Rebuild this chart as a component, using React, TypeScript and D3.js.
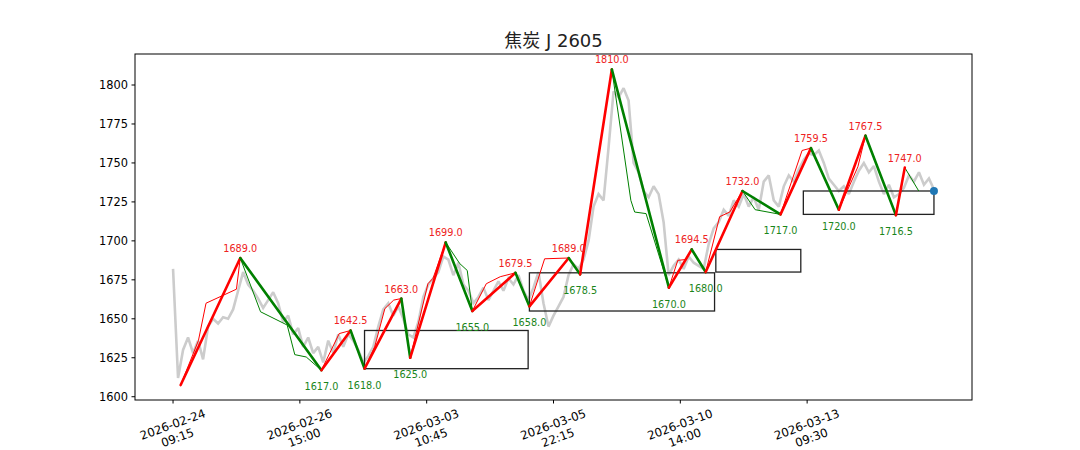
import React from 'react';
import * as d3 from 'd3';

const TITLE = '焦炭 J 2605';

// Gray price trace (evenly spaced over bar index 0..600)
const PRICE: number[] = [
  1682, 1612, 1630, 1638, 1628, 1636, 1624, 1645, 1650, 1647,
  1651, 1650, 1656, 1668, 1680, 1672, 1668, 1663, 1657, 1662,
  1667, 1660, 1648, 1652, 1640, 1644, 1632, 1638, 1628, 1632,
  1622, 1636, 1628, 1640, 1632, 1640, 1636, 1630, 1622, 1626,
  1632, 1645, 1656, 1660, 1652, 1658, 1650, 1640, 1638, 1648,
  1664, 1672, 1676, 1680, 1690, 1688, 1678, 1686, 1672, 1668,
  1660, 1664, 1670, 1662, 1668, 1674, 1668, 1676, 1672, 1678,
  1668, 1662, 1670, 1680, 1660, 1645, 1652, 1658, 1664, 1678,
  1685, 1682, 1688, 1700, 1722, 1730, 1726, 1760, 1796, 1792,
  1798, 1790, 1750, 1744, 1732, 1728, 1735, 1730, 1712, 1678,
  1684, 1688, 1682, 1690, 1686, 1684, 1682, 1698, 1708, 1712,
  1720, 1716, 1726, 1722, 1730, 1722, 1728, 1720, 1738, 1742,
  1726, 1722, 1735, 1742, 1738, 1746, 1752, 1756, 1755, 1758,
  1750, 1740, 1736, 1732, 1735, 1730, 1738, 1745, 1750, 1744,
  1748, 1738, 1730, 1736, 1728, 1730, 1734, 1742, 1738, 1744,
  1736, 1740, 1733,
];
const PRICE_LAST_INDEX = 600;

// Main strokes (pivots): bar index and price
const PIVOT_INDEX = [6, 53, 117, 140, 151, 180, 187, 215, 236, 270, 281, 312, 321, 346, 391, 409, 420, 449, 479, 503, 525, 546, 570, 577];
const PIVOT_VALUE = [1607.5, 1689, 1617, 1642.5, 1618, 1663, 1625, 1699, 1655, 1679.5, 1658, 1689, 1678.5, 1810, 1670, 1694.5, 1680, 1732, 1717, 1759.5, 1720, 1767.5, 1716.5, 1747];

// Sub-level strokes: [index, price] paths
const THIN_UP: [number, number][][] = [
  [[6, 1607.5], [20, 1636], [26, 1660], [50, 1669], [53, 1689]],
  [[117, 1617], [131, 1640.5], [140, 1642.5]],
  [[151, 1618], [159, 1632], [167, 1656.5], [174, 1662], [180, 1663]],
  [[187, 1625], [201, 1672.5], [205, 1676], [215, 1699]],
  [[236, 1655], [247, 1672.5], [258, 1677], [270, 1679.5]],
  [[281, 1658], [293, 1688.5], [312, 1689]],
  [[391, 1670], [398, 1687.5], [404, 1688], [409, 1694.5]],
  [[420, 1680], [431, 1715.5], [439, 1718.5], [449, 1732]],
  [[479, 1717], [496, 1758], [503, 1759.5]],
  [[525, 1720], [540, 1747.5], [546, 1767.5]],
];
const THIN_DOWN: [number, number][][] = [
  [[53, 1689], [69, 1654.5], [90, 1646], [96, 1627], [105, 1625.5], [117, 1617]],
  [[215, 1699], [226, 1685.5], [232, 1681], [236, 1655]],
  [[346, 1810], [361, 1726], [364, 1718.5], [373, 1717.5], [391, 1670]],
  [[449, 1732], [459, 1720], [479, 1717]],
  [[577, 1747], [588, 1732]],
];

// Pivot zones: start index, end index, low, high
const BOX_START = [151, 281, 428, 497];
const BOX_END = [280, 427, 495, 600];
const BOX_LOW = [1618, 1655, 1680, 1717];
const BOX_HIGH = [1642.5, 1679.5, 1694.5, 1732];

const END_POINT: [number, number] = [600, 1732];

const X_TICKS = [0, 100, 200, 300, 400, 500];
const X_TICK_DATES = ['2026-02-24', '2026-02-26', '2026-03-03', '2026-03-05', '2026-03-10', '2026-03-13'];
const X_TICK_TIMES = ['09:15', '15:00', '10:45', '22:15', '14:00', '09:30'];
const Y_TICKS = [1600, 1625, 1650, 1675, 1700, 1725, 1750, 1775, 1800];

const W = 1080;
const H = 450;
const LEFT = 135;
const RIGHT = 972;
const TOP = 54;
const BOTTOM = 400;
const FONT = '"DejaVu Sans", sans-serif';

export default function App() {
  const x = d3.scaleLinear().domain([-30, 630]).range([LEFT, RIGHT]);
  const y = d3.scaleLinear().domain([1597.9, 1819.9]).range([BOTTOM, TOP]);

  const priceLine = d3
    .line<number>()
    .x((_, i) => x((i * PRICE_LAST_INDEX) / (PRICE.length - 1)))
    .y((d) => y(d));

  const pathLine = d3
    .line<[number, number]>()
    .x((d) => x(d[0]))
    .y((d) => y(d[1]));

  const segs = PIVOT_INDEX.slice(1).map((xi, i) => {
    const a: [number, number] = [PIVOT_INDEX[i], PIVOT_VALUE[i]];
    const b: [number, number] = [xi, PIVOT_VALUE[i + 1]];
    return { d: pathLine([a, b]) as string, up: b[1] > a[1] };
  });

  return (
    <div style={{ position: 'absolute', left: 0, top: 0 }}>
      <svg width={W} height={H} style={{ display: 'block', background: '#fff' }}>
        <rect x={0} y={0} width={W} height={H} fill="#fff" />
        <text x={(LEFT + RIGHT) / 2} y={47} textAnchor="middle" fontFamily={'"DejaVu Sans", "Noto Sans CJK SC", sans-serif'} fontSize={18} fill="#222">
          {TITLE}
        </text>

        <defs>
          <clipPath id="plot">
            <rect x={LEFT} y={TOP} width={RIGHT - LEFT} height={BOTTOM - TOP} />
          </clipPath>
        </defs>

        <g clipPath="url(#plot)">
          <path d={priceLine(PRICE) as string} fill="none" stroke="#cccccc" strokeWidth={2.6} strokeLinejoin="miter" strokeMiterlimit={2} />

          {BOX_START.map((s, i) => (
            <rect
              key={'b' + i}
              x={x(s)}
              y={y(BOX_HIGH[i])}
              width={x(BOX_END[i]) - x(s)}
              height={y(BOX_LOW[i]) - y(BOX_HIGH[i])}
              fill="none"
              stroke="#222"
              strokeWidth={1.3}
            />
          ))}

          {THIN_UP.map((p, i) => (
            <path key={'tu' + i} d={pathLine(p) as string} fill="none" stroke="#ff0000" strokeWidth={1} />
          ))}
          {THIN_DOWN.map((p, i) => (
            <path key={'td' + i} d={pathLine(p) as string} fill="none" stroke="#008000" strokeWidth={1} />
          ))}

          {segs.map((s, i) => (
            <path key={'s' + i} d={s.d} fill="none" stroke={s.up ? '#ff0000' : '#008000'} strokeWidth={2.6} strokeLinecap="round" />
          ))}

          <circle cx={x(END_POINT[0])} cy={y(END_POINT[1])} r={4} fill="#1f77b4" />
        </g>

        {PIVOT_INDEX.map((xi, i) => {
          if (i === 0) return null;
          const high = i % 2 === 1;
          return (
            <text
              key={'l' + i}
              x={x(xi)}
              y={high ? y(PIVOT_VALUE[i]) - 6 : y(PIVOT_VALUE[i]) + 20}
              textAnchor="middle"
              fontFamily={FONT}
              fontSize={9.7}
              fill={high ? '#ee2222' : '#1a851a'}
            >
              {PIVOT_VALUE[i].toFixed(1)}
            </text>
          );
        })}

        <rect x={LEFT} y={TOP} width={RIGHT - LEFT} height={BOTTOM - TOP} fill="none" stroke="#000" strokeWidth={1} />

        {Y_TICKS.map((t) => (
          <g key={'y' + t}>
            <line x1={LEFT - 3.5} x2={LEFT} y1={y(t)} y2={y(t)} stroke="#000" strokeWidth={1} />
            <text x={LEFT - 7} y={y(t)} dy="0.35em" textAnchor="end" fontFamily={FONT} fontSize={11.4} fill="#000">
              {t}
            </text>
          </g>
        ))}

        {X_TICKS.map((t, i) => (
          <g key={'x' + t}>
            <line x1={x(t)} x2={x(t)} y1={BOTTOM} y2={BOTTOM + 3.5} stroke="#000" strokeWidth={1} />
            <g transform={`translate(${x(t) + 2},${431}) rotate(-20)`}>
              <text x={0} y={-7} dy="0.35em" textAnchor="middle" fontFamily={FONT} fontSize={11.8} fill="#000">
                {X_TICK_DATES[i]}
              </text>
              <text x={0} y={7} dy="0.35em" textAnchor="middle" fontFamily={FONT} fontSize={11.8} fill="#000">
                {X_TICK_TIMES[i]}
              </text>
            </g>
          </g>
        ))}
      </svg>
    </div>
  );
}
